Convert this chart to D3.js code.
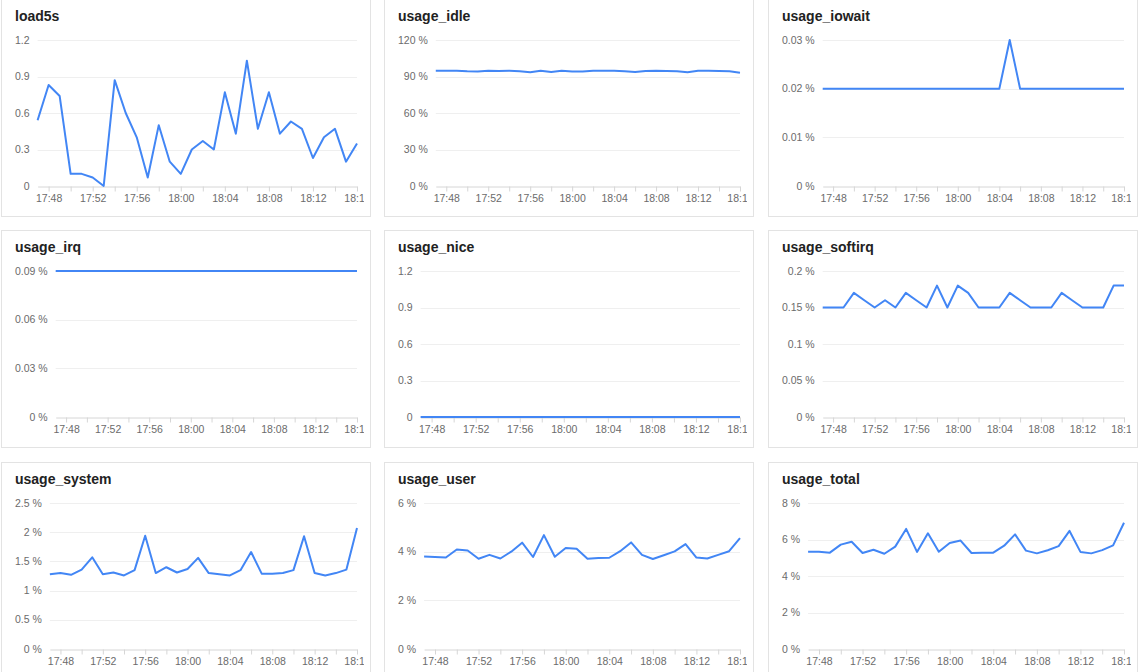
<!DOCTYPE html>
<html>
<head>
<meta charset="utf-8">
<script src="https://cdn.jsdelivr.net/npm/d3@7"></script>
<style>
  body { margin: 0; background: #fff; overflow: hidden; }
  svg { display: block; }
</style>
</head>
<body>
<svg id="board"></svg>
<script>
// one sample per minute
const minutes = ["17:47", "17:48", "17:49", "17:50", "17:51", "17:52", "17:53", "17:54", "17:55", "17:56",
  "17:57", "17:58", "17:59", "18:00", "18:01", "18:02", "18:03", "18:04", "18:05", "18:06",
  "18:07", "18:08", "18:09", "18:10", "18:11", "18:12", "18:13", "18:14", "18:15", "18:16"];

const load5s = [0.54, 0.83, 0.74, 0.10, 0.10, 0.07, 0.00, 0.87, 0.60, 0.40,
  0.07, 0.50, 0.20, 0.10, 0.30, 0.37, 0.30, 0.77, 0.43, 1.03,
  0.47, 0.77, 0.43, 0.53, 0.47, 0.23, 0.40, 0.47, 0.20, 0.35];

const usageIdle = [94.67, 94.67, 94.72, 94.28, 94.12, 94.74, 94.56, 94.78, 94.39, 93.42,
  94.68, 93.66, 94.67, 94.19, 94.06, 94.74, 94.72, 94.72, 94.34, 93.72,
  94.61, 94.76, 94.59, 94.36, 93.53, 94.68, 94.76, 94.58, 94.32, 93.08];

const usageIowait = [0.02, 0.02, 0.02, 0.02, 0.02, 0.02, 0.02, 0.02, 0.02, 0.02,
  0.02, 0.02, 0.02, 0.02, 0.02, 0.02, 0.02, 0.02, 0.03, 0.02,
  0.02, 0.02, 0.02, 0.02, 0.02, 0.02, 0.02, 0.02, 0.02, 0.02];

const usageIrq = [0.09, 0.09, 0.09, 0.09, 0.09, 0.09, 0.09, 0.09, 0.09, 0.09,
  0.09, 0.09, 0.09, 0.09, 0.09, 0.09, 0.09, 0.09, 0.09, 0.09,
  0.09, 0.09, 0.09, 0.09, 0.09, 0.09, 0.09, 0.09, 0.09, 0.09];

const usageNice = [0, 0, 0, 0, 0, 0, 0, 0, 0, 0,
  0, 0, 0, 0, 0, 0, 0, 0, 0, 0,
  0, 0, 0, 0, 0, 0, 0, 0, 0, 0];

const usageSoftirq = [0.15, 0.15, 0.15, 0.17, 0.16, 0.15, 0.16, 0.15, 0.17, 0.16,
  0.15, 0.18, 0.15, 0.18, 0.17, 0.15, 0.15, 0.15, 0.17, 0.16,
  0.15, 0.15, 0.15, 0.17, 0.16, 0.15, 0.15, 0.15, 0.18, 0.18];

const usageSystem = [1.28, 1.30, 1.27, 1.36, 1.57, 1.28, 1.31, 1.26, 1.35, 1.94,
  1.30, 1.40, 1.31, 1.37, 1.56, 1.30, 1.28, 1.26, 1.35, 1.66,
  1.29, 1.29, 1.30, 1.35, 1.93, 1.30, 1.26, 1.30, 1.36, 2.07];

const usageUser = [3.80, 3.78, 3.76, 4.09, 4.05, 3.71, 3.87, 3.72, 4.00, 4.37,
  3.78, 4.68, 3.79, 4.15, 4.12, 3.71, 3.74, 3.75, 4.02, 4.38,
  3.87, 3.70, 3.85, 4.01, 4.31, 3.76, 3.72, 3.87, 4.02, 4.56];

const usageTotal = [5.33, 5.33, 5.28, 5.72, 5.88, 5.26, 5.44, 5.22, 5.61, 6.58,
  5.32, 6.34, 5.33, 5.81, 5.94, 5.26, 5.28, 5.28, 5.66, 6.28,
  5.39, 5.24, 5.41, 5.64, 6.47, 5.32, 5.24, 5.42, 5.68, 6.92];

// y tick labels for each panel
const loadTicks = [0, 0.3, 0.6, 0.9, 1.2];
const idleTicks = [0, 30, 60, 90, 120];
const iowaitTicks = [0, 0.01, 0.02, 0.03];
const irqTicks = [0, 0.03, 0.06, 0.09];
const niceTicks = [0, 0.3, 0.6, 0.9, 1.2];
const softirqTicks = [0, 0.05, 0.1, 0.15, 0.2];
const systemTicks = [0, 0.5, 1, 1.5, 2, 2.5];
const userTicks = [0, 2, 4, 6];
const totalTicks = [0, 2, 4, 6, 8];

const panels = [
  { title: "load5s", values: load5s, ticks: loadTicks, unit: "" },
  { title: "usage_idle", values: usageIdle, ticks: idleTicks, unit: " %" },
  { title: "usage_iowait", values: usageIowait, ticks: iowaitTicks, unit: " %" },
  { title: "usage_irq", values: usageIrq, ticks: irqTicks, unit: " %" },
  { title: "usage_nice", values: usageNice, ticks: niceTicks, unit: "" },
  { title: "usage_softirq", values: usageSoftirq, ticks: softirqTicks, unit: " %" },
  { title: "usage_system", values: usageSystem, ticks: systemTicks, unit: " %" },
  { title: "usage_user", values: usageUser, ticks: userTicks, unit: " %" },
  { title: "usage_total", values: usageTotal, ticks: totalTicks, unit: " %" },
];

const width = 1146;
const height = 672;
const panelW = 370;
const panelH = 218;
const colX = [1, 384, 768];
const rowY = [-1, 230, 462];

const labelFont = "'Liberation Sans', Arial, sans-serif";
const lineColor = "#4286f5";

const parseTime = d3.timeParse("%H:%M");
const fmtTime = d3.timeFormat("%H:%M");
const times = minutes.map(parseTime);

const svg = d3.select("#board").attr("width", width).attr("height", height);

panels.forEach((p, i) => {
  const g = svg
    .append("g")
    .attr("transform", `translate(${colX[i % 3]},${rowY[Math.floor(i / 3)]})`);

  // clip so the last time label gets cut like in the dashboard
  g.append("clipPath")
    .attr("id", `clip${i}`)
    .append("rect")
    .attr("width", panelW - 7)
    .attr("height", panelH);

  g.append("rect")
    .attr("x", 0.5)
    .attr("y", 0.5)
    .attr("width", panelW - 1)
    .attr("height", panelH - 1)
    .attr("fill", "#fff")
    .attr("stroke", "#e3e3e3");

  const inner = g.append("g").attr("clip-path", `url(#clip${i})`);

  inner
    .append("text")
    .attr("x", 14)
    .attr("y", 21.5)
    .text(p.title)
    .style("font-family", labelFont)
    .style("font-weight", "bold")
    .style("font-size", "14px")
    .style("fill", "#222");

  // y labels first, so the plot can start after the widest one
  const yLabels = inner
    .append("g")
    .selectAll("text")
    .data(p.ticks)
    .join("text")
    .text((d) => d + p.unit)
    .attr("text-anchor", "end")
    .attr("dy", "0.35em")
    .style("font-family", labelFont)
    .style("font-size", "10.5px")
    .style("fill", "#6b6b6b");

  let maxW = 0;
  yLabels.each(function () {
    maxW = Math.max(maxW, this.getComputedTextLength());
  });

  const left = 14 + maxW + 8;
  const right = panelW - 14;
  const top = 41;
  const bottom = 187;

  const x = d3.scaleTime().domain(d3.extent(times)).range([left, right]);
  const y = d3
    .scaleLinear()
    .domain([0, p.ticks[p.ticks.length - 1]])
    .range([bottom, top]);

  yLabels.attr("x", left - 8).attr("y", (d) => y(d));

  // grid
  inner
    .append("g")
    .selectAll("line")
    .data(p.ticks.filter((d) => d !== 0))
    .join("line")
    .attr("x1", left)
    .attr("x2", right)
    .attr("y1", (d) => Math.round(y(d)) + 0.5)
    .attr("y2", (d) => Math.round(y(d)) + 0.5)
    .attr("stroke", "#efefef");

  const xAxis = inner
    .append("g")
    .attr("transform", `translate(0,${Math.round(bottom) + 0.5})`)
    .call(
      d3
        .axisBottom(x)
        .ticks(d3.timeMinute.every(2))
        .tickSize(5)
        .tickSizeOuter(0)
        .tickFormat((d) => (d.getMinutes() % 4 === 0 ? fmtTime(d) : ""))
    );
  xAxis.select(".domain").attr("stroke", "#d6d6d6");
  xAxis.selectAll(".tick line").attr("stroke", "#d6d6d6");
  xAxis
    .selectAll(".tick text")
    .style("font-family", labelFont)
    .style("font-size", "10.5px")
    .style("fill", "#6b6b6b");

  const line = d3
    .line()
    .x((d, j) => x(times[j]))
    .y((d) => y(d));

  inner
    .append("path")
    .datum(p.values)
    .attr("d", line)
    .attr("fill", "none")
    .attr("stroke", lineColor)
    .attr("stroke-width", 2)
    .attr("stroke-linejoin", "round");
});
</script>
</body>
</html>
